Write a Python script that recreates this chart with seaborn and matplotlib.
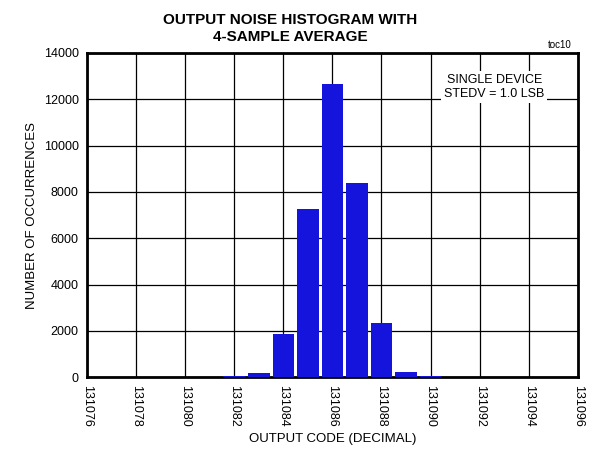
import matplotlib
matplotlib.use('Agg')
import matplotlib.pyplot as plt
import seaborn as sns
import pandas as pd

# histogram data
codes = [131082, 131083, 131084, 131085, 131086, 131087, 131088, 131089, 131090]
counts = [50, 200, 1880, 7270, 12660, 8380, 2320, 230, 60]

xticks = list(range(131076, 131097, 2))
yticks = list(range(0, 14001, 2000))

sns.set_style('white', {'text.color': 'black', 'axes.labelcolor': 'black',
                        'xtick.color': 'black', 'ytick.color': 'black'})
plt.rcParams['font.family'] = ['Liberation Sans', 'DejaVu Sans']

df = pd.DataFrame({'code': codes, 'count': counts})

fig = plt.figure(figsize=(5.92, 4.49), dpi=100)
ax = fig.add_axes([0.147, 0.160, 0.829, 0.722])

sns.barplot(data=df, x='code', y='count', native_scale=True, width=0.88,
            color='#1414dc', saturation=1, linewidth=0, ax=ax, zorder=3)

ax.set_xlim(131076, 131096)
ax.set_ylim(0, 14000)
ax.set_xticks(xticks)
ax.set_xticklabels([str(t) for t in xticks], rotation=270, fontsize=9)
ax.set_yticks(yticks)
ax.set_yticklabels([str(t) for t in yticks], fontsize=9)
ax.tick_params(length=0, pad=6)
ax.grid(True, color='black', linewidth=0.9, zorder=0)
ax.set_axisbelow(True)
for s in ax.spines.values():
    s.set_visible(True)
    s.set_color('black')
    s.set_linewidth(2)

ax.set_xlabel('OUTPUT CODE (DECIMAL)', fontsize=9.5)
ax.set_ylabel('NUMBER OF OCCURRENCES', fontsize=9.5)
fig.suptitle('OUTPUT NOISE HISTOGRAM WITH\n4-SAMPLE AVERAGE', x=0.49, y=0.972,
             fontsize=11, fontweight='bold', linespacing=1.35)

ax.text(0.83, 0.895, 'SINGLE DEVICE\nSTEDV = 1.0 LSB', transform=ax.transAxes,
        ha='center', va='center', fontsize=9, linespacing=1.25,
        bbox=dict(facecolor='white', edgecolor='none', pad=2), zorder=5)
fig.text(0.945, 0.90, 'toc10', ha='center', va='center', fontsize=7)

fig.savefig('out.png', dpi=100)
